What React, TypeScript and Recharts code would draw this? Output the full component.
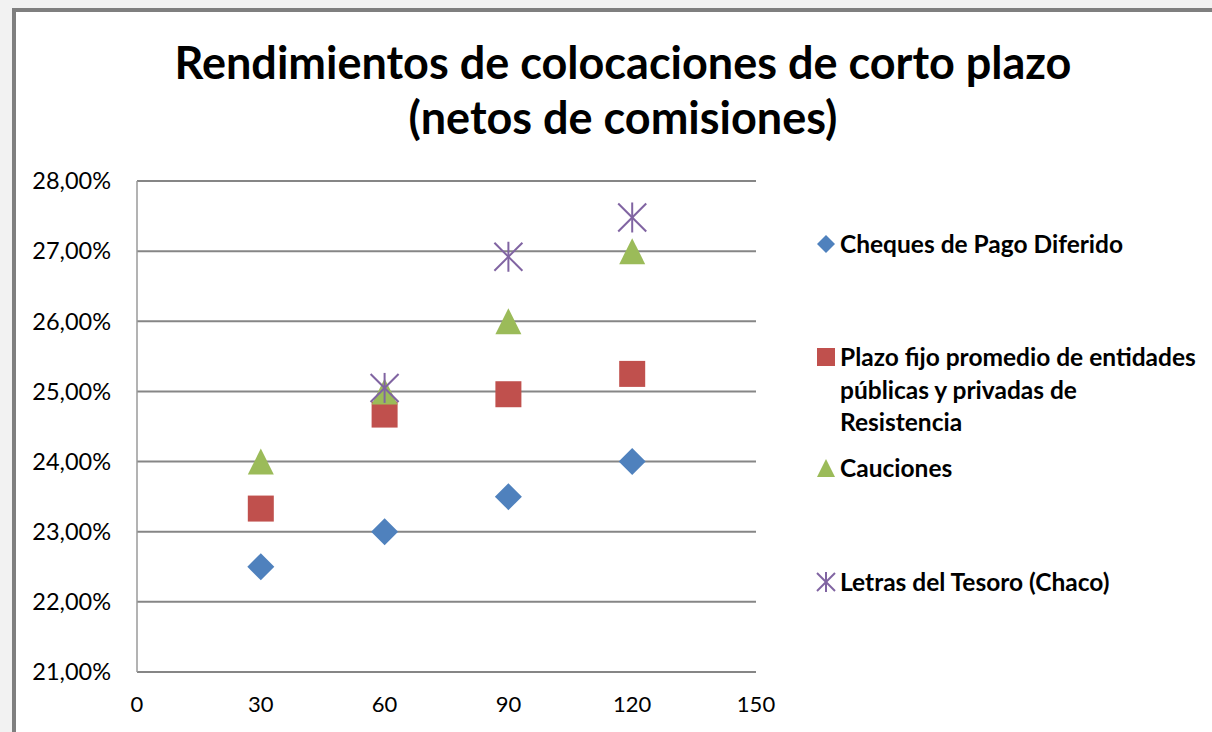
import { ScatterChart, Scatter, XAxis, YAxis, CartesianGrid } from "recharts";

const days = [30, 60, 90, 120];
const chequesRates = [22.5, 23.0, 23.5, 24.0];
const plazoFijoRates = [23.33, 24.67, 24.96, 25.25];
const caucionesRates = [24.0, 25.0, 26.0, 27.0];
const letrasDays = [60, 90, 120];
const letrasRates = [25.05, 26.92, 27.48];

const xTicks = [0, 30, 60, 90, 120, 150];
const yTicks = [21, 22, 23, 24, 25, 26, 27, 28];

const titleLines = ["Rendimientos de colocaciones de corto plazo", "(netos de comisiones)"];

const FONT = "Lato, 'Open Sans', sans-serif";
const GRID = "#868686";

type Marker = "diamond" | "square" | "triangle" | "star";

function markerPath(kind: Marker, cx: number, cy: number, s: number, color: string) {
  const h = s / 2;
  if (kind === "diamond") {
    return <path d={`M${cx},${cy - h}L${cx + h},${cy}L${cx},${cy + h}L${cx - h},${cy}Z`} fill={color} />;
  }
  if (kind === "square") {
    return <rect x={cx - h} y={cy - h} width={s} height={s} fill={color} />;
  }
  if (kind === "triangle") {
    return <path d={`M${cx},${cy - h}L${cx + h},${cy + h}L${cx - h},${cy + h}Z`} fill={color} />;
  }
  return (
    <g stroke={color} strokeWidth={2}>
      <line x1={cx - h} y1={cy - h} x2={cx + h} y2={cy + h} />
      <line x1={cx + h} y1={cy - h} x2={cx - h} y2={cy + h} />
      <line x1={cx} y1={cy - h - 1} x2={cx} y2={cy + h + 1} />
    </g>
  );
}

const series = [
  { name: ["Cheques de Pago Diferido"], color: "#4f81bd", marker: "diamond" as Marker, size: 27, x: days, y: chequesRates, legendTop: 244 },
  {
    name: ["Plazo fijo promedio de entidades", "públicas y privadas de", "Resistencia"],
    color: "#c0504d",
    marker: "square" as Marker,
    size: 26,
    x: days,
    y: plazoFijoRates,
    legendTop: 357,
  },
  { name: ["Cauciones"], color: "#9bbb59", marker: "triangle" as Marker, size: 26, x: days, y: caucionesRates, legendTop: 468 },
  { name: ["Letras del Tesoro (Chaco)"], color: "#8064a2", marker: "star" as Marker, size: 28, x: letrasDays, y: letrasRates, legendTop: 582 },
];

const fmtPct = (v: number) => v.toFixed(2).replace(".", ",") + "%";

export default function App() {
  return (
    <div style={{ position: "fixed", left: 0, top: 0, width: 1212, height: 732, background: "#f2f2f2", overflow: "hidden", fontFamily: FONT }}>
      <div
        style={{
          position: "absolute",
          left: 12,
          top: 8,
          width: 1230,
          height: 760,
          border: "4px solid #7f7f7f",
          background: "#fff",
          boxSizing: "border-box",
        }}
      />
      <div
        style={{
          position: "absolute",
          left: 0,
          top: 35,
          width: 1246,
          textAlign: "center",
          fontWeight: 700,
          fontSize: 45,
          lineHeight: "55px",
          color: "#000",
        }}
      >
        {titleLines.map((t) => (
          <div key={t}>{t}</div>
        ))}
      </div>
      <div style={{ position: "absolute", left: 0, top: 0 }}>
        <ScatterChart width={1212} height={732} margin={{ top: 181, right: 456, bottom: 0, left: 0 }}>
          <CartesianGrid vertical={false} stroke={GRID} strokeWidth={2} />
          <XAxis
            type="number"
            dataKey="x"
            domain={[0, 150]}
            ticks={xTicks}
            height={60}
            axisLine={false}
            tickLine={false}
            tickSize={0}
            tickMargin={24}
            tick={{ fill: "#000", fontSize: 22, fontFamily: FONT }}
          />
          <YAxis
            type="number"
            dataKey="y"
            domain={[21, 28]}
            ticks={yTicks}
            width={137}
            axisLine={{ stroke: "#9a9a9a", strokeWidth: 1.5 }}
            tickLine={false}
            tickSize={0}
            tickMargin={26}
            tickFormatter={fmtPct}
            tick={{ fill: "#000", fontSize: 23.5, fontFamily: FONT }}
          />
          {series.map((s) => (
            <Scatter
              key={s.name[0]}
              name={s.name.join(" ")}
              data={s.x.map((d, i) => ({ x: d, y: s.y[i] }))}
              fill={s.color}
              isAnimationActive={false}
              shape={(p: any) => markerPath(s.marker, p.cx, p.cy, s.size, s.color)}
            />
          ))}
        </ScatterChart>
      </div>
      {series.map((s) => (
        <div key={s.name[0]} style={{ position: "absolute", left: 816, top: s.legendTop - 16, display: "flex" }}>
          <svg width={22} height={32} style={{ flex: "none" }}>
            {markerPath(s.marker, 10, 16, 18, s.color)}
          </svg>
          <div style={{ fontWeight: 700, fontSize: 24.5, lineHeight: "32.5px", color: "#000", marginLeft: 2, whiteSpace: "nowrap" }}>
            {s.name.map((l) => (
              <div key={l}>{l}</div>
            ))}
          </div>
        </div>
      ))}
    </div>
  );
}
